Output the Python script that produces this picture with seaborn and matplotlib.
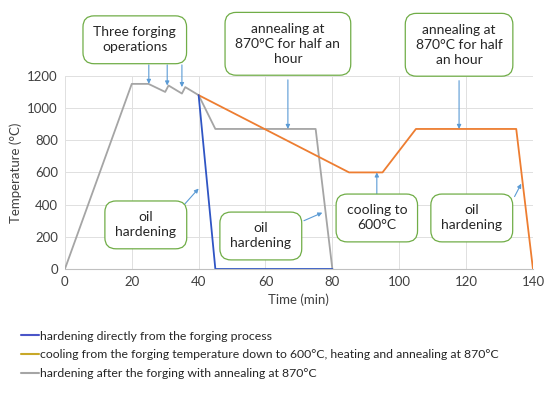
import numpy as np
import pandas as pd
import matplotlib
matplotlib.use('Agg')
import matplotlib.pyplot as plt
from matplotlib.lines import Line2D
import seaborn as sns

# curves (time in min, temperature in degC)
t_direct = [40, 45, 80]
T_direct = [1080, 0, 0]
t_cool600 = [40, 85, 95, 105, 135, 140]
T_cool600 = [1080, 600, 600, 870, 870, 0]
t_anneal = [0, 20, 25, 30, 31, 35, 36, 40, 45, 75, 80]
T_anneal = [0, 1150, 1150, 1100, 1140, 1090, 1130, 1080, 870, 870, 0]

labels = ['hardening directly from the forging process',
          'cooling from the forging temperature down to 600°C, heating and annealing at 870°C',
          'hardening after the forging with annealing at 870°C']
line_colors = ['#2f55c4', '#ed7d31', '#a5a5a5']
legend_colors = ['#4a55c8', '#c8a828', '#a5a5a5']

x_ticks = [0, 20, 40, 60, 80, 100, 120, 140]
y_ticks = [0, 200, 400, 600, 800, 1000, 1200]

sns.set_style('white')
plt.rcParams['font.family'] = ['Lato', 'DejaVu Sans']

fig = plt.figure(figsize=(5.5, 3.95), dpi=100)
ax = fig.add_axes([0.118, 0.319, 0.851, 0.489])

sns.lineplot(x=t_anneal, y=T_anneal, sort=False, color=line_colors[2], lw=1.3, ax=ax)
sns.lineplot(x=t_cool600, y=T_cool600, sort=False, color=line_colors[1], lw=1.3, ax=ax)
sns.lineplot(x=t_direct, y=T_direct, sort=False, color=line_colors[0], lw=1.3, ax=ax)

ax.set_xlim(0, 140)
ax.set_ylim(0, 1200)
ax.set_xticks(x_ticks)
ax.set_yticks(y_ticks)
ax.tick_params(labelsize=9.5, length=0, pad=5, colors='#404040')
ax.grid(True, color='#e0e0e0', lw=0.7)
for s in ['top', 'right', 'left']:
    ax.spines[s].set_visible(False)
ax.spines['bottom'].set_color('#c0c0c0')
ax.set_xlabel('Time (min)', fontsize=9.5, color='#404040', labelpad=4)
ax.set_ylabel('Temperature (°C)', fontsize=9.5, color='#404040', labelpad=4)

box = dict(boxstyle='round,pad=0.75,rounding_size=0.8', fc='white', ec='#70ad47', lw=0.9)
notes = [
    ('Three forging\noperations', 20.9, 1424),
    ('annealing at\n870°C for half an\nhour', 66.7, 1399),
    ('annealing at\n870°C for half\nan hour', 117.9, 1393),
    ('cooling to\n600°C', 93.3, 317),
    ('oil\nhardening', 121.7, 317),
    ('oil\nhardening', 24.2, 274),
    ('oil\nhardening', 58.6, 205),
]
for txt, x, y in notes:
    ax.text(x, y, txt, ha='center', va='center', fontsize=10, color='#262626',
            bbox=box, linespacing=1.3, clip_on=False, zorder=5)

arrows = [
    ((25.1, 1268), (25.1, 1150)),
    ((30.6, 1268), (30.6, 1140)),
    ((35.0, 1268), (35.0, 1130)),
    ((66.7, 1175), (66.7, 870)),
    ((117.9, 1170), (117.9, 870)),
    ((93.3, 455), (93.3, 600)),
    ((134.5, 450), (136.5, 530)),
    ((35.7, 400), (40.0, 500)),
    ((71.5, 300), (77.0, 350)),
]
for start, end in arrows:
    ax.annotate('', xy=end, xytext=start, annotation_clip=False,
                arrowprops=dict(arrowstyle='-|>', color='#5b9bd5', lw=0.8,
                                mutation_scale=6, shrinkA=0, shrinkB=0))

handles = [Line2D([0], [0], color=c, lw=1.5) for c in legend_colors]
fig.legend(handles, labels, loc='upper left', bbox_to_anchor=(0.03, 0.175),
           frameon=False, fontsize=8.8, handlelength=1.4, handletextpad=0.15,
           labelspacing=0.62, borderaxespad=0, labelcolor='#262626')

fig.savefig('out.png', dpi=100)
